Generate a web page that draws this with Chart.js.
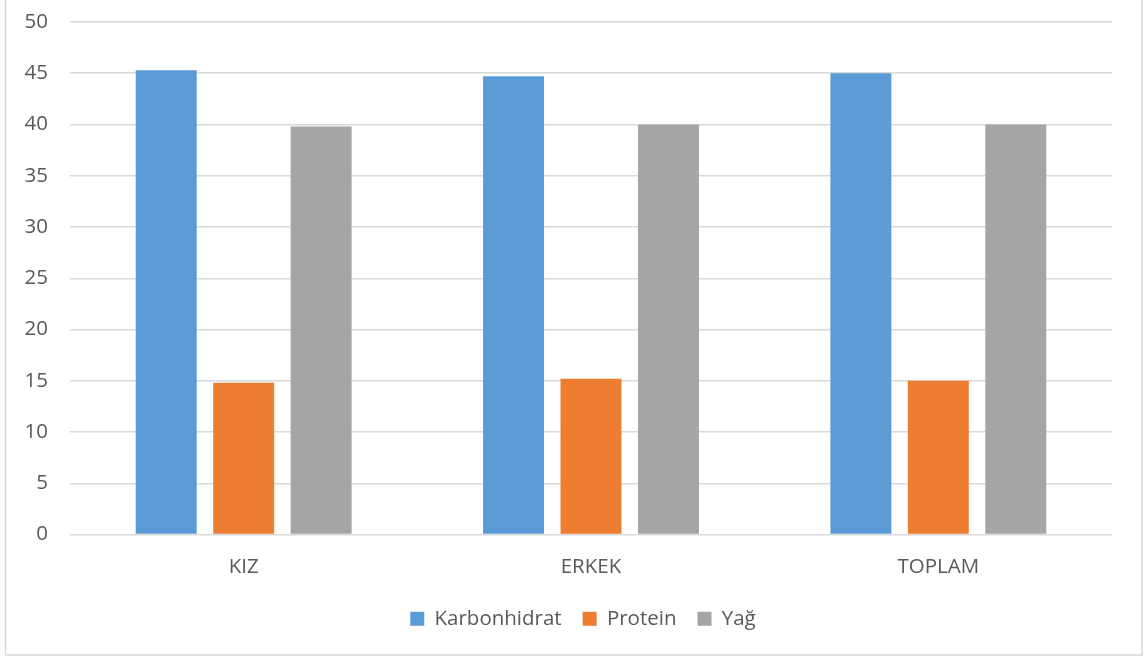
<!DOCTYPE html>
<html>
<head>
<meta charset="utf-8">
<script src="https://cdn.jsdelivr.net/npm/chart.js@4"></script>
<style>
  html, body { margin: 0; padding: 0; background: #ffffff; }
  #wrap { position: relative; width: 1144px; height: 658px; }
</style>
</head>
<body>
<div id="wrap"><canvas id="chart" width="1144" height="658"></canvas></div>
<script>
// Categories and series values
const categories = ['KIZ', 'ERKEK', 'TOPLAM'];
const karbonhidrat = [45.3, 44.7, 45.0];
const protein = [14.8, 15.2, 15.0];
const yag = [39.8, 40.0, 40.0];
const yTicks = [0, 5, 10, 15, 20, 25, 30, 35, 40, 45, 50];

const FONT = "'Open Sans', 'Noto Sans', sans-serif";
const TEXT = '#595959';
const SIZE = 20.5;

// Light frame around the whole chart, and legend centred in the frame
const framePlugin = {
  id: 'frame',
  afterLayout(chart) {
    const lg = chart.legend;
    if (lg) { lg.left += 27; lg.right += 27; }
  },
  afterDraw(chart) {
    const ctx = chart.ctx;
    ctx.save();
    ctx.strokeStyle = '#d9d9d9';
    ctx.lineWidth = 1.5;
    ctx.strokeRect(5.5, -2, 1136.5, 657);
    ctx.restore();
  }
};

new Chart(document.getElementById('chart'), {
  type: 'bar',
  data: {
    labels: categories,
    datasets: [
      { label: 'Karbonhidrat', data: karbonhidrat, backgroundColor: '#5B9BD5' },
      { label: 'Protein', data: protein, backgroundColor: '#ED7D31' },
      { label: 'Yağ', data: yag, backgroundColor: '#A5A5A5' }
    ]
  },
  options: {
    responsive: false,
    animation: false,
    events: [],
    layout: { padding: { left: 0, right: 32, top: 22, bottom: 19 } },
    datasets: {
      bar: { categoryPercentage: 0.669, barPercentage: 0.787 }
    },
    plugins: {
      tooltip: { enabled: false },
      legend: {
        position: 'bottom',
        labels: {
          font: { family: FONT, size: SIZE },
          color: TEXT,
          boxWidth: 14,
          boxHeight: 14,
          padding: 21
        }
      }
    },
    scales: {
      x: {
        grid: { display: false, drawTicks: false },
        border: { display: false },
        ticks: { font: { family: FONT, size: SIZE }, color: TEXT, padding: 20 },
        afterFit(s) { s.height = 53; }
      },
      y: {
        min: 0,
        max: 50,
        afterBuildTicks(s) { s.ticks = yTicks.map(v => ({ value: v })); },
        grid: { color: '#d9d9d9', lineWidth: 1.5, drawTicks: false },
        border: { display: false },
        ticks: { font: { family: FONT, size: SIZE }, color: TEXT, padding: 22 },
        afterFit(s) { s.width = 70; s.paddingTop = 0; s.paddingBottom = 0; }
      }
    }
  },
  plugins: [framePlugin]
});
</script>
</body>
</html>
